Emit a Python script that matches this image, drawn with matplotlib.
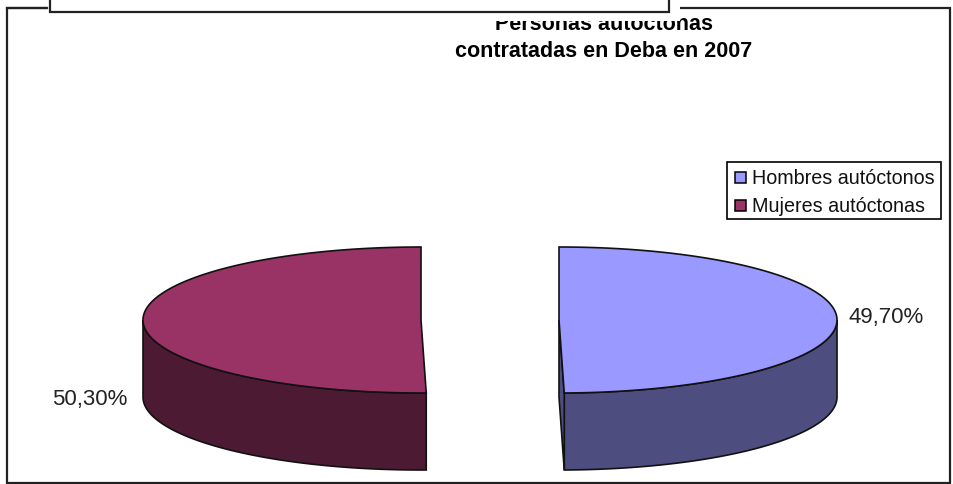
"""Tarta 3D separada: personas autóctonas contratadas en Deba en 2007."""
import matplotlib
matplotlib.use("Agg")
import matplotlib.pyplot as plt
import numpy as np
from matplotlib.patches import Polygon, Rectangle

plt.rcParams["font.family"] = ["Liberation Sans", "DejaVu Sans"]

CATEGORIES = ["Hombres autóctonos", "Mujeres autóctonas"]
VALUES = [49.70, 50.30]
TITLE = "Personas autóctonas\ncontratadas en Deba en 2007"

TOP_COLORS = ["#9999FF", "#993366"]
WALL_COLORS = ["#4D4D80", "#4D1A33"]
CENTERS_X = [559, 421]
CENTER_Y = 320
RADIUS_X = 278
RADIUS_Y = 73
DEPTH = 77


def rim(cx, start, end):
    """Borde de la elipse, con ángulos en grados desde arriba y en sentido horario."""
    t = np.radians(np.linspace(start, end, 200))
    return np.column_stack([cx + RADIUS_X * np.sin(t), CENTER_Y - RADIUS_Y * np.cos(t)])


fig = plt.figure(figsize=(9.54, 4.84), dpi=100)
ax = fig.add_axes([0, 0, 1, 1])
ax.set_xlim(0, 954)
ax.set_ylim(484, 0)
ax.axis("off")

# marco exterior
ax.add_patch(Rectangle((7, 8), 943, 475, fc="white", ec="#222222", lw=1.6, zorder=1))

# porciones
start = 0.0
for i, v in enumerate(VALUES):
    end = start + v * 3.6
    cx = CENTERS_X[i]
    # pared lateral: solo la parte visible, por debajo del centro
    wall_from, wall_to = (90, end) if i == 0 else (start, 270)
    edge = rim(cx, wall_from, wall_to)
    wall = np.vstack([edge, (edge + [0, DEPTH])[::-1]])
    ax.add_patch(Polygon(wall, fc=WALL_COLORS[i], ec="#111111", lw=1.2, zorder=2))
    if i == 0:
        # cara del corte, apenas visible en la porción derecha
        tip = rim(cx, end, end)[0]
        cut = [(cx, CENTER_Y), tip, tip + [0, DEPTH], (cx, CENTER_Y + DEPTH)]
        ax.add_patch(Polygon(cut, fc=WALL_COLORS[i], ec="#111111", lw=1.2, zorder=2))
    top = np.vstack([[cx, CENTER_Y], rim(cx, start, end)])
    ax.add_patch(Polygon(top, fc=TOP_COLORS[i], ec="#111111", lw=1.2, zorder=3))
    start = end

# etiquetas de porcentaje
label_pos = [(886, 318), (90, 400)]
for v, (x, y) in zip(VALUES, label_pos):
    ax.text(x, y, f"{v:.2f}%".replace(".", ","), fontsize=16, color="#222222",
            ha="center", va="center", zorder=4)

# título, recortado arriba por el recuadro
ax.text(604, 38, TITLE, fontsize=15.5, fontweight="bold", color="black",
        ha="center", va="center", linespacing=1.4, zorder=4)
ax.add_patch(Rectangle((47, 0), 633, 20.5, fc="white", ec="none", zorder=5))
ax.add_patch(Rectangle((50, -5), 619, 17, fc="white", ec="#222222", lw=1.6, zorder=6))
ax.plot([7, 47], [8, 8], color="#222222", lw=1.6, zorder=6)

# leyenda
ax.add_patch(Rectangle((727, 162), 214, 57, fc="white", ec="black", lw=1.2, zorder=4))
legend_y = [177, 205]
for name, color, y in zip(CATEGORIES, TOP_COLORS, legend_y):
    ax.add_patch(Rectangle((735.5, y - 5.5), 11, 11, fc=color, ec="black", lw=1.1, zorder=5))
    ax.text(752, y + 1, name, fontsize=14.2, color="#111111", ha="left", va="center", zorder=5)

fig.savefig("out.png", dpi=100)
plt.close(fig)
